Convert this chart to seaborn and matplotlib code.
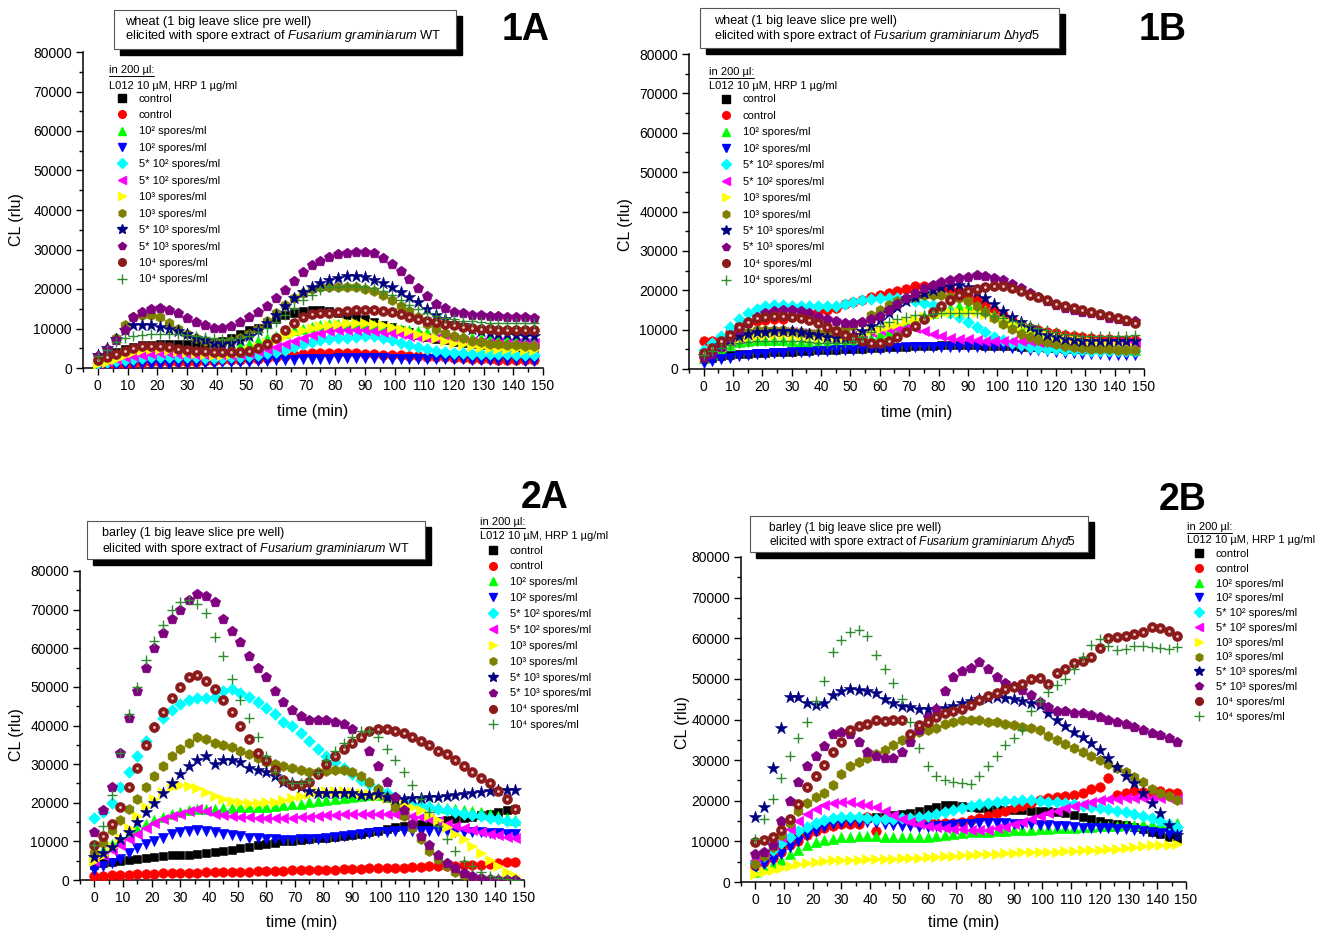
import numpy as np
import pandas as pd
import matplotlib
matplotlib.use("Agg")
import matplotlib.pyplot as plt
import seaborn as sns
from matplotlib.lines import Line2D
from matplotlib.patches import Rectangle
from matplotlib.ticker import MultipleLocator, FuncFormatter

# ---------------- data (CL values in units of 1000 rlu, sampled every 3 min) ----------------
TIME = list(range(0, 148, 3))

LABELS = ["control", "control", "10² spores/ml", "10² spores/ml",
          "5* 10² spores/ml", "5* 10² spores/ml", "10³ spores/ml", "10³ spores/ml",
          "5* 10³ spores/ml", "5* 10³ spores/ml", "10⁴ spores/ml", "10⁴ spores/ml"]

# ---- 1A wheat, WT ----
w_wt_ctrl_a = [2.5, 3, 4, 4.8, 5.4, 5.7, 5.9, 6, 6, 6,
               6, 6, 6.1, 6.3, 6.8, 7.6, 8.7, 9.6, 10.2, 11.2,
               12.3, 13.4, 14, 14.4, 14.7, 14.7, 14.4, 13.9, 13.4, 12.9,
               12.3, 11.7, 11, 10.3, 9.6, 9, 8.4, 7.9, 7.4, 7,
               6.6, 6.3, 6, 5.8, 5.6, 5.4, 5.2, 5.1, 5, 5]
w_wt_ctrl_b = [0.8, 0.9, 1, 1.1, 1.2, 1.3, 1.4, 1.4, 1.5, 1.5,
               1.6, 1.6, 1.7, 1.8, 1.9, 2, 2.1, 2.2, 2.4, 2.6,
               2.8, 3, 3.3, 3.5, 3.7, 3.8, 3.9, 3.9, 3.8, 3.7,
               3.6, 3.5, 3.4, 3.3, 3.2, 3.1, 3, 2.9, 2.8, 2.7,
               2.6, 2.5, 2.4, 2.3, 2.2, 2.1, 2, 2, 1.9, 1.9]
w_wt_1e2_a = [1.5, 2, 2.7, 3.3, 3.8, 4.2, 4.4, 4.5, 4.5, 4.5,
              4.4, 4.4, 4.4, 4.5, 4.7, 5, 5.5, 6.1, 6.8, 7.5,
              8.2, 8.9, 9.5, 10, 10.5, 10.9, 11.1, 11.2, 11.2, 11.1,
              11, 10.8, 10.5, 10.2, 9.9, 9.6, 9.3, 9, 8.7, 8.4,
              8.2, 8, 7.8, 7.6, 7.5, 7.4, 7.3, 7.2, 7.2, 7.2]
w_wt_1e2_b = [0.2, 0.4, 0.6, 0.8, 0.9, 1, 1, 1.1, 1.1, 1.2,
              1.2, 1.2, 1.3, 1.3, 1.4, 1.4, 1.5, 1.6, 1.7, 1.8,
              1.9, 2, 2.1, 2.2, 2.3, 2.4, 2.4, 2.5, 2.5, 2.5,
              2.5, 2.5, 2.5, 2.4, 2.4, 2.4, 2.3, 2.3, 2.3, 2.2,
              2.2, 2.2, 2.1, 2.1, 2, 2, 1.9, 1.9, 1.8, 1.8]
w_wt_5e2_a = [1.2, 1.4, 1.7, 2, 2.3, 2.6, 2.8, 2.9, 2.9, 2.9,
              2.8, 2.7, 2.6, 2.6, 2.6, 2.7, 2.8, 3, 3.3, 3.7,
              4.1, 4.6, 5.3, 6, 6.6, 7, 7.3, 7.5, 7.7, 7.9,
              8, 8, 7.7, 7.1, 6.4, 5.8, 5.2, 4.7, 4.3, 4,
              3.8, 3.7, 3.6, 3.6, 3.5, 3.5, 3.5, 3.4, 3.4, 3.4]
w_wt_5e2_b = [1.5, 1.8, 2.2, 2.7, 3.1, 3.4, 3.6, 3.7, 3.7, 3.6,
              3.5, 3.4, 3.3, 3.2, 3.2, 3.3, 3.5, 3.8, 4.2, 4.7,
              5.3, 6, 6.8, 7.6, 8.3, 8.9, 9.3, 9.6, 9.7, 9.7,
              9.6, 9.4, 9.1, 8.8, 8.5, 8.2, 7.9, 7.7, 7.5, 7.3,
              7.1, 6.9, 6.8, 6.7, 6.6, 6.5, 6.4, 6.4, 6.3, 6.3]
w_wt_1e3_a = [1, 1.5, 2.3, 3.2, 4, 4.5, 4.8, 4.8, 4.6, 4.3,
              4, 3.7, 3.5, 3.4, 3.4, 3.6, 4, 4.6, 5.4, 6.3,
              7.2, 8, 8.8, 9.5, 10.1, 10.6, 11, 11.2, 11.4, 11.4,
              11.3, 11.1, 10.8, 10.4, 9.9, 9.3, 8.7, 8.1, 7.5, 6.9,
              6.4, 6, 5.6, 5.3, 5.1, 4.9, 4.8, 4.7, 4.6, 4.5]
w_wt_1e3_b = [2.5, 3.5, 7.5, 11, 13, 13.5, 13.5, 13, 11.5, 9.8,
              8.5, 7.6, 6.9, 6.4, 6.4, 6.8, 7.6, 8.7, 10, 11.8,
              13.8, 15.9, 17.8, 19.1, 20, 20.4, 20.5, 20.5, 20.5, 20.4,
              20, 19.4, 18.4, 17.2, 15.8, 14.4, 12.8, 11.2, 10, 8.9,
              8.1, 7.5, 6.9, 6.5, 6.2, 6, 5.9, 5.7, 5.6, 5.5]
w_wt_5e3_a = [3.4, 5, 7.3, 9.6, 10.8, 11, 10.9, 10.5, 10, 9.3,
              8.5, 7.7, 7, 6.4, 6.2, 6.4, 7, 8.2, 9.5, 11.3,
              13.4, 15.8, 17.8, 19.3, 20.5, 21.5, 22.3, 22.9, 23.3, 23.3,
              23, 22.4, 21.6, 20.5, 19.3, 18, 16.6, 15, 13.4, 12.3,
              11.5, 10.8, 10, 9.3, 8.9, 8.7, 8.5, 8.3, 8.1, 8]
w_wt_5e3_b = [3, 4.8, 7, 9.7, 12.8, 14.3, 15, 15.2, 14.8, 13.8,
              12.7, 11.6, 10.8, 10.2, 10.2, 10.7, 11.6, 13, 14.3, 15.8,
              17.6, 19.7, 22, 24.2, 26, 27.2, 28.2, 28.8, 29.2, 29.3,
              29.3, 29.2, 27.8, 26.3, 24.5, 22.5, 20.3, 18.2, 16.3, 15.2,
              14.3, 13.8, 13.5, 13.3, 13.2, 13.1, 13, 12.9, 12.8, 12.7]
w_wt_1e4_a = [2.1, 2.8, 3.6, 4.4, 5.1, 5.5, 5.6, 5.5, 5.2, 4.9,
              4.6, 4.4, 4.2, 4, 4, 4, 4.1, 4.4, 5.1, 6.2,
              7.6, 9.6, 11.3, 12.8, 13.6, 13.9, 13.9, 14.1, 14.4, 14.6,
              14.6, 14.6, 14.5, 14.2, 13.6, 13, 12.5, 12, 11.6, 11.2,
              10.8, 10.5, 10.2, 10, 9.8, 9.7, 9.6, 9.6, 9.7, 9.7]
w_wt_1e4_b = [3, 4.5, 6.5, 7.7, 8.1, 8.4, 8.5, 8.5, 8.5, 8.5,
              8.4, 8.2, 7.9, 7.6, 7.4, 7.3, 7.6, 8.2, 9, 10.2,
              11.6, 13.3, 15.3, 17.2, 18.6, 19.8, 20.4, 20.6, 20.7, 20.7,
              20.6, 20.3, 19.5, 18.5, 17.2, 16, 14.9, 13.9, 13.2, 12.7,
              12.3, 12, 11.8, 11.6, 11.5, 11.4, 11.4, 11.4, 11.4, 11.4]

# ---- 1B wheat, delta hyd5 ----
w_hy_ctrl_a = [2.5, 2.9, 3.2, 3.5, 3.7, 3.9, 4, 4.1, 4.2, 4.3,
               4.4, 4.5, 4.6, 4.7, 4.8, 4.9, 5, 5.1, 5.2, 5.3,
               5.4, 5.5, 5.6, 5.7, 5.8, 5.9, 5.9, 6, 6, 6,
               6, 6, 5.9, 5.9, 5.8, 5.8, 5.7, 5.6, 5.5, 5.4,
               5.3, 5.2, 5.1, 5, 5, 5, 5, 5, 5, 5]
w_hy_ctrl_b = [7, 7.2, 8, 9.5, 10.8, 11.6, 12.1, 12.4, 12.6, 12.8,
               13.1, 13.4, 13.9, 14.4, 14.9, 15.6, 16.4, 17, 17.6, 18.3,
               18.9, 19.4, 19.9, 20.4, 21, 21, 21, 20.6, 20.2, 19.7,
               18.7, 17.4, 16.2, 15, 13.6, 12.5, 11.4, 10.5, 9.9, 9.5,
               9.1, 8.7, 8.4, 8.1, 7.9, 7.7, 7.5, 7.4, 7.4, 7.4]
w_hy_1e2_a = [2.8, 3.8, 5, 6.2, 6.9, 7.2, 7.3, 7.4, 7.4, 7.3,
              7.1, 6.9, 6.7, 6.6, 6.5, 6.5, 6.6, 6.8, 7.3, 8,
              8.8, 9.7, 10.7, 11.6, 12.5, 13.4, 14.2, 14.9, 15.5, 15.9,
              16, 15.7, 14.9, 13.8, 12.7, 11.7, 10.7, 9.9, 9.1, 8.5,
              7.9, 7.4, 7, 6.6, 6.2, 5.9, 5.6, 5.3, 5.1, 4.9]
w_hy_1e2_b = [1.5, 2, 2.5, 2.9, 3.2, 3.5, 3.7, 3.9, 4, 4.1,
              4.2, 4.3, 4.4, 4.5, 4.6, 4.7, 4.8, 4.9, 5, 5.1,
              5.2, 5.3, 5.4, 5.5, 5.5, 5.6, 5.6, 5.7, 5.7, 5.7,
              5.7, 5.7, 5.6, 5.6, 5.5, 5.3, 5.1, 4.9, 4.7, 4.5,
              4.3, 4.1, 4, 3.9, 3.8, 3.7, 3.6, 3.6, 3.6, 3.6]
w_hy_5e2_a = [4.9, 6.5, 8.4, 10.6, 12.8, 14.3, 15.3, 15.9, 16.2, 16.3,
              16.1, 16, 15.9, 15.9, 15.9, 16.1, 16.4, 16.9, 17.4, 17.8,
              18, 18, 18, 17.7, 17.2, 16.7, 16.2, 15, 14.1, 13.3,
              12, 10.6, 9.4, 8.2, 7.3, 6.6, 6.1, 5.7, 5.4, 5.2,
              5, 4.9, 4.8, 4.7, 4.6, 4.5, 4.5, 4.5, 4.5, 4.5]
w_hy_5e2_b = [4, 5, 6.2, 7.2, 8, 8.6, 9, 9.3, 9.4, 9.4,
              9.3, 9.1, 8.9, 8.6, 8.4, 8.3, 8.4, 8.6, 9, 9.4,
              9.8, 10.1, 10.3, 10.4, 10.4, 9.6, 8.9, 8.4, 8, 7.7,
              7.5, 7.3, 7.2, 7.1, 7, 7, 7, 7, 6.9, 6.8,
              6.7, 6.7, 6.6, 6.6, 6.6, 6.6, 6.6, 6.6, 6.6, 6.6]
w_hy_1e3_a = [3.2, 4.2, 5.5, 6.8, 7.7, 8.2, 8.5, 8.7, 8.7, 8.6,
              8.4, 8.3, 8.1, 8, 7.9, 8, 8.2, 8.5, 9, 9.6,
              10.2, 10.8, 11.5, 12.1, 12.8, 13.3, 13.8, 14.1, 14.4, 14.6,
              14.6, 14.4, 13.9, 13.2, 12.4, 11.6, 10.8, 10.1, 9.5, 8.9,
              8.4, 8, 7.6, 7.2, 6.9, 6.5, 6.2, 5.9, 5.6, 5.3]
w_hy_1e3_b = [3.6, 4.5, 6, 7.5, 8.7, 9.5, 9.8, 10, 10, 9.8,
              9.6, 9.4, 9.2, 9.2, 9.5, 9.9, 10.3, 10.8, 12, 13.6,
              15, 16.2, 17.2, 17.9, 18.4, 18.7, 18.8, 18.7, 18.4, 18,
              17.2, 16, 14.5, 13, 11.5, 10.2, 9, 8.1, 7.4, 6.8,
              6.3, 5.9, 5.6, 5.4, 5.2, 5.1, 5, 4.9, 4.9, 4.9]
w_hy_5e3_a = [3.2, 4.5, 6, 7.4, 8.3, 9, 9.3, 9.5, 9.6, 9.6,
              9.6, 9.4, 9, 8.6, 8.2, 7.9, 8, 8.6, 9.6, 11,
              12.5, 14.1, 15.8, 17.2, 18.4, 19.4, 20.1, 20.7, 21.2, 21.4,
              20.8, 19.6, 18, 16.4, 14.8, 13.3, 11.9, 10.6, 9.6, 8.7,
              8.1, 7.7, 7.4, 7.2, 7.1, 7, 7, 7, 7, 7]
w_hy_5e3_b = [2.8, 3.8, 5.7, 7.8, 10, 11.8, 13.1, 14.3, 14.8, 15,
              15, 14.7, 14.1, 13.3, 12.6, 12.1, 11.8, 11.7, 12, 12.6,
              13.5, 14.9, 16.5, 18, 19.4, 20.6, 21.4, 22, 22.7, 23.1,
              23.4, 23.8, 23.6, 23.1, 22.5, 21.7, 20.5, 19.4, 18.3, 17.2,
              16.3, 15.6, 15.1, 14.6, 14.1, 13.6, 13, 12.6, 12.3, 12.1]
w_hy_1e4_a = [4, 5.3, 7, 8.7, 10.6, 12, 12.9, 13.3, 13.5, 13.5,
              13.3, 12.9, 12.4, 11.6, 10.7, 9.6, 8.6, 7.8, 7.1, 6.7,
              6.7, 7.1, 8.2, 9.4, 10.8, 12.8, 14.6, 16, 17.4, 18.8,
              19.7, 20.4, 20.9, 21.2, 21.2, 20.5, 19.7, 18.9, 18.2, 17.5,
              16.6, 16, 15.5, 14.9, 14.4, 13.9, 13.5, 13, 12.4, 11.8]
w_hy_1e4_b = [3.6, 4.5, 5.4, 6, 6.6, 6.9, 7, 7, 7, 7,
              7, 7, 6.9, 6.7, 6.6, 6.6, 6.7, 7.2, 8.2, 9.5,
              10.8, 11.9, 12.8, 13.3, 13.6, 13.8, 14, 14.1, 14.2, 14.2,
              14.2, 14.1, 13.9, 13.5, 12.9, 12.3, 11.8, 11.2, 10.5, 9.9,
              9.3, 8.9, 8.6, 8.4, 8.3, 8.3, 8.3, 8.4, 8.5, 8.7]

# ---- 2A barley, WT ----
b_wt_ctrl_a = [4, 4.3, 4.7, 5, 5.3, 5.5, 5.8, 6, 6.2, 6.4,
               6.5, 6.6, 6.8, 7, 7.2, 7.5, 7.8, 8.2, 8.6, 9,
               9.4, 9.7, 10, 10.2, 10.4, 10.6, 10.8, 11, 11.2, 11.4,
               11.6, 11.9, 12.3, 12.8, 13.2, 13.6, 14, 14.3, 14.6, 14.9,
               15.2, 15.5, 15.8, 16, 16.3, 16.7, 17.2, 17.6, 18, 18.5]
b_wt_ctrl_b = [1.0, 1.1, 1.2, 1.3, 1.4, 1.5, 1.5, 1.6, 1.7, 1.7,
               1.8, 1.9, 1.9, 2.0, 2.0, 2.1, 2.1, 2.2, 2.2, 2.3,
               2.3, 2.4, 2.4, 2.5, 2.5, 2.6, 2.6, 2.7, 2.7, 2.8,
               2.8, 2.9, 3.0, 3.0, 3.1, 3.2, 3.2, 3.3, 3.4, 3.5,
               3.5, 3.6, 3.7, 3.8, 3.9, 4.0, 4.2, 4.4, 4.6, 4.7]
b_wt_1e2_a = [6.5, 7.8, 9.3, 10.5, 12, 13.3, 14.5, 15.5, 16.3, 17,
              17.5, 18, 18.5, 18.5, 18.5, 18.6, 18.7, 18.8, 18.9, 19,
              19, 19.2, 19.4, 19.6, 19.8, 20.1, 20.4, 20.7, 21, 21.3,
              21.5, 21.7, 21.9, 22, 21.6, 21, 20.4, 20, 19.7, 19.3,
              19, 18.7, 18.4, 18.1, 17.8, 17.5, 17.1, 16.6, 16, 15.5]
b_wt_1e2_b = [2.5, 3.5, 4.5, 5.5, 7, 8.2, 9.3, 10.2, 11, 11.8,
              12.3, 12.8, 13, 12.8, 12.4, 12, 11.6, 11.3, 11, 10.8,
              10.6, 10.5, 10.4, 10.4, 10.5, 10.6, 10.7, 10.9, 11.1, 11.4,
              11.7, 12, 12.2, 12.4, 12.5, 12.6, 12.7, 12.8, 12.8, 12.7,
              12.6, 12.6, 12.5, 12.5, 12.4, 12.3, 12.2, 12.1, 12, 12]
b_wt_5e2_a = [16, 17.5, 20, 24, 28, 32, 36, 39.5, 42, 44,
              45.5, 46.5, 47, 47, 47.5, 49, 49.5, 48.5, 47.5, 46,
              44.5, 43, 41, 39.8, 38, 36, 34, 32, 30.5, 29,
              27.5, 26, 24.8, 23.6, 22.5, 21.5, 20.5, 19.8, 19.2, 18.8,
              18.4, 18, 17.6, 17.2, 16.9, 16.5, 16.1, 15.7, 15.3, 15]
b_wt_5e2_b = [5, 6.5, 7.8, 9, 10.5, 12, 13.5, 14.8, 15.8, 16.6,
              17.2, 17.8, 18.5, 17.8, 17, 16.7, 16.5, 16.3, 16.2, 16.1,
              16, 16, 16, 16, 16.2, 16.4, 16.6, 16.7, 16.8, 17,
              17, 17.1, 17.2, 17.2, 17.1, 17, 16.8, 16.5, 16.2, 15.7,
              15.2, 14.6, 14, 13.4, 12.9, 12.5, 12, 11.6, 11.2, 11]
b_wt_1e3_a = [5, 6.5, 8.5, 11, 13.5, 16.5, 19, 21, 22.8, 24,
              24.5, 24.3, 23.8, 22.8, 21.8, 21, 20.5, 20.2, 20, 20,
              20.1, 20.3, 20.7, 21.2, 21.8, 22.3, 22.7, 23, 23, 23,
              22.8, 22.5, 22.2, 21.8, 21.3, 20.6, 19.8, 19, 18, 16.8,
              15.5, 13.8, 12, 10.5, 8.8, 7, 5.3, 3.6, 2.2, 1]
b_wt_1e3_b = [7, 9.5, 13, 15.5, 18.5, 21, 24, 27, 29.5, 32,
              34, 35.5, 37, 36.5, 35.5, 35, 34.5, 33.5, 32.5, 31.5,
              30.5, 30, 29.5, 29, 28.5, 28, 28, 28.2, 28.5, 28.5,
              28, 27, 25.5, 23.5, 21.5, 19, 16.5, 13.5, 10.5, 7.5,
              5.5, 3.5, 2.2, 1.2, 0.5, 0.2, 0.1, 0, 0, 0]
b_wt_5e3_a = [6, 7, 8.5, 10.5, 12.5, 15, 17.5, 20, 22.5, 25,
              27.5, 29.5, 31, 32, 30, 31, 31, 30.5, 29, 28.5,
              28, 27, 25.5, 25, 24, 23, 22.5, 22.5, 22.5, 22.5,
              22.5, 22, 22, 22.3, 21.5, 21, 21, 21.2, 21.3, 21.5,
              21.6, 21.8, 22, 22.2, 22.5, 22.8, 23, 23.2, 23.3, 23.2]
b_wt_5e3_b = [12.5, 18, 24, 33, 42, 49, 55, 60, 64, 67.5,
              70, 72.5, 74, 73.5, 72, 67.5, 64.5, 61.5, 58, 55,
              52.5, 49, 46, 44, 42.5, 41.5, 41.5, 41.5, 41, 40.5,
              39, 37, 33.5, 29.5, 25.5, 21.5, 18, 14.5, 11.5, 9,
              6.5, 4.5, 3, 1.8, 1, 0.5, 0.2, 0.1, 0, 0]
b_wt_1e4_a = [9, 11.5, 14.5, 19, 24, 29, 35, 39.5, 43.5, 47,
              50, 52.5, 53, 51.5, 49.5, 46.5, 43.5, 40, 36.5, 33,
              31, 28.5, 26, 24.5, 24.5, 25.5, 27.5, 30, 32, 34,
              35.5, 37, 38.5, 39, 39, 38.5, 38, 37, 36, 35,
              33.5, 32.5, 31, 29.5, 28, 26.5, 25, 23, 21, 18.5]
b_wt_1e4_b = [9, 14, 22, 33, 43, 50, 57, 62, 66, 70,
              72, 72.5, 71.5, 69, 63, 58, 52, 46.5, 42, 37,
              32, 28, 26, 25, 25, 26, 28, 31, 33.5, 35.5,
              37, 38.5, 38.5, 37, 34, 31, 28, 24.5, 21, 17.5,
              14, 10.5, 7.5, 5, 3.5, 2, 1, 0.5, 0.2, 0]

# ---- 2B barley, delta hyd5 ----
b_hy_ctrl_a = [4.5, 5.5, 6.5, 8, 9.5, 11, 12.2, 13, 13.7, 14.3,
               14.8, 15.1, 15.4, 15.7, 15.9, 16.1, 16.4, 16.7, 17, 17.5,
               18, 18.5, 18.9, 19, 18.8, 18.5, 18.2, 18, 17.9, 17.8,
               17.8, 17.7, 17.6, 17.5, 17.4, 17.3, 17, 16.6, 16, 15.5,
               15, 14.6, 14.3, 14, 13.6, 13, 12.4, 11.8, 11.2, 10.5]
b_hy_ctrl_b = [4, 5, 6, 7.5, 9, 10.2, 11.5, 12.5, 13.2, 13.8,
               14.2, 14.3, 14.2, 16, 12.5, 15.5, 15.3, 15.2, 15, 14.8,
               14.8, 14.6, 14.5, 14.5, 14.8, 15.2, 15.7, 16.3, 17, 17.6,
               18.2, 18.8, 19.4, 20.2, 20.8, 21, 21.2, 21.5, 22, 22.8,
               23.5, 25.5, 21.5, 22, 22.3, 22.2, 22, 22.3, 22, 22]
b_hy_1e2_a = [2.5, 3.5, 4.5, 5.5, 6.8, 8, 9, 9.8, 10.3, 10.7,
              11, 11.2, 11.3, 11.3, 11.3, 11.2, 11.2, 11.2, 11.2, 11.1,
              11.2, 11.4, 11.6, 11.8, 12, 12.2, 12.3, 12.4, 12.5, 12.6,
              12.7, 12.8, 12.9, 13, 13.1, 13.2, 13.3, 13.4, 13.5, 13.6,
              13.7, 13.8, 13.9, 14, 14.1, 14.2, 14.3, 14.4, 14.5, 14.5]
b_hy_1e2_b = [3.5, 4.5, 5.5, 7, 8.5, 10, 11.5, 12.5, 13.5, 14.2,
              14.6, 14.8, 14.8, 14.7, 14.5, 14.3, 14.1, 13.9, 13.7, 13.6,
              13.6, 13.7, 13.8, 14, 14.2, 14.4, 14.5, 14.6, 14.6, 14.5,
              14.4, 14.3, 14.2, 14.1, 14, 13.9, 13.7, 13.5, 13.4, 13.3,
              13.3, 13.2, 13.1, 13, 12.8, 12.6, 12.3, 12, 11.7, 11.5]
b_hy_5e2_a = [5, 6.5, 8, 9.5, 11, 12.5, 13.5, 14.5, 15.2, 15.7,
              16, 16, 15.9, 15.7, 15.5, 15.5, 15.6, 15.7, 15.8, 16,
              16.3, 16.8, 17.3, 17.8, 18.3, 18.8, 19.2, 19.5, 19.7, 19.9,
              20, 20.1, 20.1, 20, 19.8, 19.6, 19.4, 19.1, 18.8, 18.5,
              18.2, 17.9, 17.6, 17.2, 16.8, 16.3, 15.7, 15, 14.2, 13.5]
b_hy_5e2_b = [5.5, 7, 9, 11, 13, 15, 16.8, 18, 19, 19.5,
              19.8, 19.6, 19.3, 19, 18.5, 17.5, 16.5, 15.5, 14.8, 14.2,
              13.8, 13.5, 13.3, 13.1, 13, 12.9, 12.8, 12.9, 13.2, 13.6,
              14.2, 14.8, 15.5, 16.3, 17, 17.6, 18.2, 18.8, 19.3, 19.8,
              20.2, 20.4, 20.5, 20.6, 20.6, 20.7, 20.7, 20.8, 20.8, 20.5]
b_hy_1e3_a = [2, 2.5, 3, 3.5, 4, 4.5, 4.8, 5, 5.2, 5.3,
              5.4, 5.5, 5.5, 5.6, 5.6, 5.7, 5.7, 5.8, 5.9, 6,
              6.1, 6.2, 6.3, 6.5, 6.6, 6.7, 6.8, 6.9, 7, 7.1,
              7.2, 7.3, 7.3, 7.4, 7.5, 7.5, 7.6, 7.7, 7.8, 7.9,
              8, 8.1, 8.2, 8.4, 8.6, 8.8, 9, 9.1, 9.2, 9.3]
b_hy_1e3_b = [4.5, 6.5, 8.5, 11.5, 14.5, 17.5, 19.5, 21, 22, 24,
              26.5, 28.5, 29.5, 30.5, 31.5, 32.5, 33.8, 35, 36, 37,
              37.5, 38, 38.8, 39.3, 39.8, 40, 39.8, 39.5, 39.3, 39,
              38.6, 38.2, 37.8, 37.5, 36, 35, 34, 33, 32, 31,
              30, 29, 28, 27, 25.8, 24.5, 23, 22, 21.2, 20.2]
b_hy_5e3_a = [16, 18.5, 28, 38, 45.5, 45.5, 44, 43.5, 44, 46,
              47, 47.5, 47.3, 47, 46.5, 45, 44, 43.3, 43, 42.7,
              42.5, 42.5, 42.8, 43.3, 44, 44.5, 45, 45.3, 45.5, 45.3,
              45, 44.5, 44, 43.5, 41.5, 39.8, 38.3, 37, 35.8, 34.2,
              32.5, 30.5, 28.3, 26.2, 24.3, 22, 19.5, 17, 14, 11.5]
b_hy_5e3_b = [7, 7.5, 9, 15, 20, 24.5, 28.5, 31, 33.5, 36.5,
              37, 36.5, 34.5, 32, 31, 30.5, 30.5, 32, 34.5, 37.5,
              40.5, 42.7, 47, 50.5, 52, 52.7, 54.2, 52.5, 50.5, 49,
              48.2, 47.3, 46, 44.3, 43.2, 42.2, 42, 41.7, 41.5, 41.2,
              40.6, 40, 39.4, 38.8, 38.2, 37.5, 36.7, 36.2, 35.5, 34.5]
b_hy_1e4_a = [9.8, 10.3, 11, 12.8, 15.5, 19.3, 23.4, 26, 28.7, 32,
              34.5, 37.5, 38.5, 39, 39.8, 39.7, 39.8, 39.8, 36.5, 38.6,
              39.5, 40.5, 41.5, 42, 42.5, 43.5, 44.8, 45.8, 46.5, 47.5,
              48, 48.7, 50, 50.3, 48.8, 51.5, 52.5, 53.8, 54.3, 55.3,
              57.5, 60, 60.3, 60.5, 61, 61.5, 62.8, 62.5, 61.8, 60.5]
b_hy_1e4_b = [10.5, 15.5, 20.5, 25.5, 31, 35.5, 39.5, 44.5, 49.5, 56.5,
              59.5, 61.5, 62, 60.5, 56, 52.5, 49, 45, 39.5, 33,
              28.5, 26, 25.2, 24.6, 24.4, 24.2, 26, 28.5, 31, 33.8,
              35.5, 37.5, 42, 44.5, 46.8, 48.5, 50, 52.5, 55.5, 58.3,
              59.8, 58, 57, 57.4, 58, 58.2, 57.8, 57.5, 57.3, 57.8]

# ---------------- styling ----------------
COLORS = ["#000000", "#ff0000", "#00ff00", "#0000ff", "#00ffff", "#ff00ff",
          "#ffff00", "#808000", "#000080", "#800080", "#8b1a1a", "#2e8b2e"]
MARKERS = ["s", "o", "^", "v", "D", "<", ">", "h", "*", "p", "o", "+"]
SIZES = [40, 48, 54, 54, 36, 54, 54, 54, 85, 60, 52, 60]

sns.set_theme(style="ticks")
plt.rcParams["font.family"] = ["Liberation Sans", "DejaVu Sans"]
plt.rcParams["text.color"] = "black"
plt.rcParams["axes.labelcolor"] = "black"
plt.rcParams["xtick.color"] = "black"
plt.rcParams["ytick.color"] = "black"
plt.rcParams["mathtext.fontset"] = "custom"
plt.rcParams["mathtext.rm"] = "Liberation Sans"
plt.rcParams["mathtext.it"] = "Liberation Sans:italic"
plt.rcParams["mathtext.bf"] = "Liberation Sans:bold"

W, H = 1318, 931
fig = plt.figure(figsize=(W / 100, H / 100), dpi=100)
fig.patch.set_facecolor("white")


def fx(px):
    return px / W


def fy(py):
    return 1 - py / H


def rect(l, t, r, b):
    return [fx(l), fy(b), (r - l) / W, (b - t) / H]


panels = [
    dict(series=[w_wt_ctrl_a, w_wt_ctrl_b, w_wt_1e2_a, w_wt_1e2_b, w_wt_5e2_a, w_wt_5e2_b,
                 w_wt_1e3_a, w_wt_1e3_b, w_wt_5e3_a, w_wt_5e3_b, w_wt_1e4_a, w_wt_1e4_b],
         box=(114, 10, 456, 49), pad=(11, 12, 26), tfs=9.3,
         title=["wheat (1 big leave slice pre well)",
                r"elicited with spore extract of $\mathit{Fusarium\ graminiarum}$ WT"],
         tag="1A", tagpos=(526, 30), ax=(83, 52, 543, 368),
         ylab=(-0.128, 0.47), xlab=(0.5, -0.114),
         hdr=(109, 70, 86), leg=(116.5, 93.5, 0.58)),
    dict(series=[w_hy_ctrl_a, w_hy_ctrl_b, w_hy_1e2_a, w_hy_1e2_b, w_hy_5e2_a, w_hy_5e2_b,
                 w_hy_1e3_a, w_hy_1e3_b, w_hy_5e3_a, w_hy_5e3_b, w_hy_1e4_a, w_hy_1e4_b],
         box=(700, 8, 1059, 48), pad=(14, 13, 28), tfs=9.1,
         title=["wheat (1 big leave slice pre well)",
                r"elicited with spore extract of $\mathit{Fusarium\ graminiarum}$ Δ$\mathit{hyd}$5"],
         tag="1B", tagpos=(1163, 30), ax=(689, 54, 1144, 369),
         ylab=(-0.123, 0.46), xlab=(0.5, -0.114),
         hdr=(709, 72, 86), leg=(720.5, 94.5, 0.58)),
    dict(series=[b_wt_ctrl_a, b_wt_ctrl_b, b_wt_1e2_a, b_wt_1e2_b, b_wt_5e2_a, b_wt_5e2_b,
                 b_wt_1e3_a, b_wt_1e3_b, b_wt_5e3_a, b_wt_5e3_b, b_wt_1e4_a, b_wt_1e4_b],
         box=(87, 521, 425, 559), pad=(15, 12, 28), tfs=9.0,
         title=["barley (1 big leave slice pre well)",
                r"elicited with spore extract of $\mathit{Fusarium\ graminiarum}$ WT"],
         tag="2A", tagpos=(545, 498), ax=(80, 571, 524, 880),
         ylab=(-0.126, 0.47), xlab=(0.5, -0.113),
         hdr=(480, 522, 536), leg=(487.5, 545.5, 0.53)),
    dict(series=[b_hy_ctrl_a, b_hy_ctrl_b, b_hy_1e2_a, b_hy_1e2_b, b_hy_5e2_a, b_hy_5e2_b,
                 b_hy_1e3_a, b_hy_1e3_b, b_hy_5e3_a, b_hy_5e3_b, b_hy_1e4_a, b_hy_1e4_b],
         box=(750, 516, 1088, 552), pad=(19, 12, 26), tfs=8.6,
         title=["barley (1 big leave slice pre well)",
                r"elicited with spore extract of $\mathit{Fusarium\ graminiarum}$ Δ$\mathit{hyd}$5"],
         tag="2B", tagpos=(1183, 500), ax=(741, 557, 1186, 882),
         ylab=(-0.115, 0.49), xlab=(0.5, -0.102),
         hdr=(1187, 527, 540), leg=(1193.5, 549.0, 0.43)),
]

underlines = []
for p in panels:
    l, t, r, b = p["ax"]
    ax = fig.add_axes(rect(l, t, r, b))
    for i, vals in enumerate(p["series"]):
        assert len(vals) == len(TIME), (p["tag"], i, len(vals))
        df = pd.DataFrame({"time": TIME, "CL": np.asarray(vals, dtype=float) * 1000})
        if MARKERS[i] == "+":
            sns.scatterplot(data=df, x="time", y="CL", marker="+", color=COLORS[i],
                            s=SIZES[i], linewidth=1.0, ax=ax, legend=False, zorder=3)
        else:
            sns.scatterplot(data=df, x="time", y="CL", marker=MARKERS[i], color=COLORS[i],
                            s=SIZES[i], linewidth=0.4, edgecolor=COLORS[i], ax=ax,
                            legend=False, zorder=3)
            if i == 10:
                sns.scatterplot(data=df, x="time", y="CL", marker="o", color="#f0c8c8",
                                s=4, linewidth=0, ax=ax, legend=False, zorder=3)
    ax.set_xlim(-5, 150)
    ax.set_ylim(0, 80000)
    ax.xaxis.set_major_locator(MultipleLocator(10))
    ax.xaxis.set_minor_locator(MultipleLocator(5))
    ax.yaxis.set_major_locator(MultipleLocator(10000))
    ax.yaxis.set_minor_locator(MultipleLocator(5000))
    ax.yaxis.set_major_formatter(FuncFormatter(lambda v, pos: f"{v:.0f}"))
    ax.tick_params(which="major", direction="out", length=5, width=1, labelsize=10,
                   colors="black", pad=3)
    ax.tick_params(which="minor", direction="out", length=3, width=1, colors="black")
    sns.despine(ax=ax)
    for s in ("left", "bottom"):
        ax.spines[s].set_linewidth(1.1)
        ax.spines[s].set_color("black")
    ax.set_facecolor("white")
    ax.set_xlabel("time (min)", fontsize=11.5, color="black")
    ax.set_ylabel("CL (rlu)", fontsize=11.5, color="black")
    ax.xaxis.set_label_coords(*p["xlab"])
    ax.yaxis.set_label_coords(*p["ylab"])

    # title box with drop shadow
    bl, bt, br, bb = p["box"]
    fig.add_artist(Rectangle((fx(bl + 6), fy(bb + 6)), (br - bl) / W, (bb - bt) / H,
                             transform=fig.transFigure, facecolor="black",
                             edgecolor="black", zorder=5))
    fig.add_artist(Rectangle((fx(bl), fy(bb)), (br - bl) / W, (bb - bt) / H,
                             transform=fig.transFigure, facecolor="white",
                             edgecolor="#555555", linewidth=0.8, zorder=6))
    padx, l1, l2 = p["pad"]
    fig.text(fx(bl + padx), fy(bt + l1), p["title"][0], fontsize=p["tfs"], va="center",
             ha="left", zorder=7, color="black")
    fig.text(fx(bl + padx), fy(bt + l2), p["title"][1], fontsize=p["tfs"], va="center",
             ha="left", zorder=7, color="black")

    # panel tag
    fig.text(fx(p["tagpos"][0]), fy(p["tagpos"][1]), p["tag"], fontsize=27,
             fontweight="bold", ha="center", va="center", color="black")

    # legend header
    hx, hy1, hy2 = p["hdr"]
    th = fig.text(fx(hx), fy(hy1), "in 200 µl:", fontsize=8, va="center", ha="left",
                  color="black")
    underlines.append(th)
    fig.text(fx(hx), fy(hy2), "L012 10 µM, HRP 1 µg/ml", fontsize=8, va="center",
             ha="left", color="black")

    # legend
    handles = []
    for i in range(12):
        if MARKERS[i] == "+":
            h = Line2D([], [], linestyle="none", marker="+", color=COLORS[i],
                       markersize=7, markeredgewidth=1.0)
        else:
            h = Line2D([], [], linestyle="none", marker=MARKERS[i], color=COLORS[i],
                       markersize=(7.5 if MARKERS[i] == "*" else 5.5))
        handles.append(h)
    lx, ly, lsp = p["leg"]
    leg = fig.legend(handles, LABELS, loc="upper left", bbox_to_anchor=(fx(lx), fy(ly)),
                     frameon=False, fontsize=8, handlelength=1.0, handletextpad=1.0,
                     labelspacing=lsp, borderpad=0, borderaxespad=0)
    for txt in leg.get_texts():
        txt.set_color("black")

fig.canvas.draw()
renderer = fig.canvas.get_renderer()
for t in underlines:
    bb = t.get_window_extent(renderer)
    fig.add_artist(Line2D([bb.x0 / W, bb.x1 / W], [(bb.y0 - 0.5) / H, (bb.y0 - 0.5) / H],
                          transform=fig.transFigure, color="black", linewidth=0.7))

fig.savefig("out.png", dpi=100, facecolor="white")
